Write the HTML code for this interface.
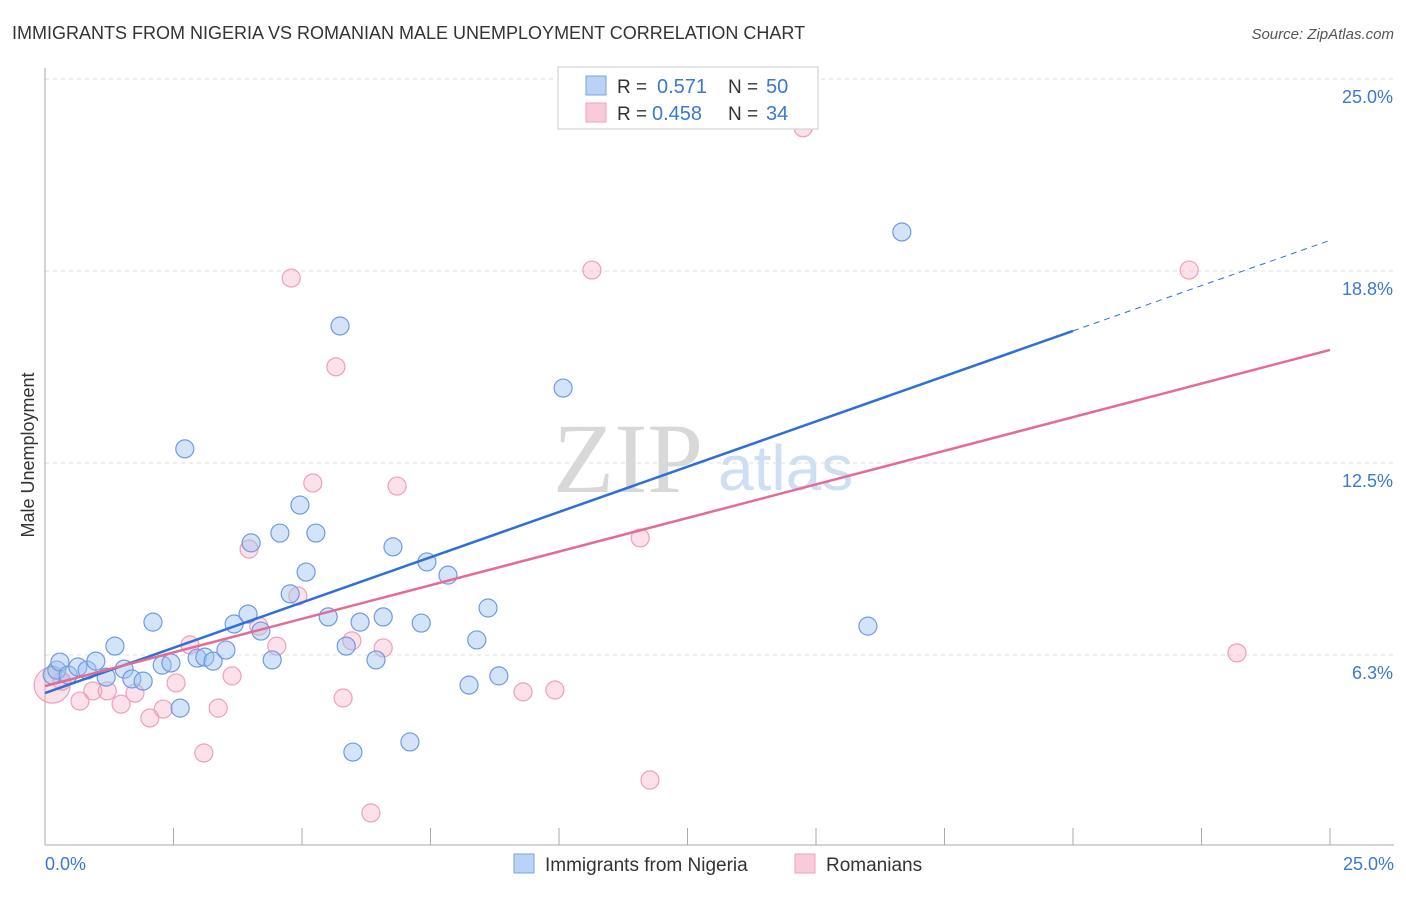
<!DOCTYPE html>
<html><head><meta charset="utf-8"><style>
body{margin:0;background:#fff;font-family:"Liberation Sans",sans-serif;}
</style></head><body>
<svg id="chart" width="1406" height="892" xmlns="http://www.w3.org/2000/svg" font-family="Liberation Sans, sans-serif">
<text x="12" y="39" font-size="18" fill="#333">IMMIGRANTS FROM NIGERIA VS ROMANIAN MALE UNEMPLOYMENT CORRELATION CHART</text>
<text x="1394" y="39" font-size="15" fill="#555" text-anchor="end" font-style="italic">Source: ZipAtlas.com</text>
<text x="34" y="455" font-size="18" fill="#333" text-anchor="middle" transform="rotate(-90 34 455)">Male Unemployment</text>
<text x="553" y="492" font-size="100" fill="#d8d8d8" font-family="Liberation Serif, serif">ZIP</text>
<text x="718" y="490" font-size="64" fill="#cfdff3">atlas</text>
<g id="grid"></g><g id="axes"></g><g id="pts"></g><g id="lines"></g>
<g>
<rect x="558" y="67" width="260" height="62" fill="#fff" stroke="#ccc"/>
<rect x="586" y="76" width="20" height="19" fill="#b9d2f5" stroke="#7ba3e0"/>
<text x="617" y="93" font-size="19" fill="#333">R =</text>
<text x="657" y="93" font-size="20" fill="#3a78d6">0.571</text>
<text x="728" y="93" font-size="19" fill="#333">N =</text>
<text x="766" y="93" font-size="20" fill="#3a78d6">50</text>
<rect x="586" y="103" width="20" height="19" fill="#f9cbd9" stroke="#eea0b8"/>
<text x="617" y="120" font-size="19" fill="#333">R =</text>
<text x="652" y="120" font-size="20" fill="#3a78d6">0.458</text>
<text x="728" y="120" font-size="19" fill="#333">N =</text>
<text x="766" y="120" font-size="20" fill="#3a78d6">34</text>
</g>
<g>
<rect x="514" y="854" width="20" height="19" fill="#b9d2f5" stroke="#7ba3e0"/>
<text x="545" y="871" font-size="19" fill="#333">Immigrants from Nigeria</text>
<rect x="795" y="854" width="20" height="19" fill="#f9cbd9" stroke="#eea0b8"/>
<text x="826" y="871" font-size="19" fill="#333">Romanians</text>
</g>
</svg>
<script>
const yTicks=[6.25,12.5,18.75,25];
const yTickLabels=["6.3%","12.5%","18.8%","25.0%"];
const xTickLabels=["0.0%","25.0%"];
const blueX=[0.14,0.23,0.29,0.45,0.64,0.82,0.99,1.19,1.36,1.54,1.69,1.91,2.10,2.28,2.45,2.63,2.72,2.96,3.11,3.27,3.52,3.68,3.95,4.01,4.20,4.42,4.57,4.77,4.96,5.08,5.27,5.51,5.74,5.86,5.99,6.13,6.44,6.58,6.77,7.10,7.32,7.43,7.84,8.25,8.40,8.62,8.83,10.08,16.01,16.67];
const blueY=[5.60,5.76,6.02,5.60,5.86,5.76,6.05,5.53,6.54,5.79,5.47,5.40,7.32,5.92,5.99,4.52,12.96,6.15,6.18,6.05,6.41,7.26,7.58,9.90,7.03,6.09,10.22,8.24,11.13,8.95,10.22,7.49,16.96,6.54,3.09,7.32,6.09,7.49,9.77,3.42,7.29,9.28,8.85,5.27,6.74,7.78,5.57,14.94,7.19,20.02];
const pinkX=[0.14,0.33,0.68,0.93,1.21,1.48,1.75,2.04,2.30,2.55,2.82,3.09,3.37,3.64,3.97,4.16,4.51,4.79,4.92,5.21,5.66,5.80,5.97,6.34,6.58,6.85,9.30,9.92,10.64,11.58,11.77,14.75,22.26,23.19];
const pinkY=[5.27,5.40,4.75,5.08,5.08,4.65,5.01,4.20,4.49,5.34,6.58,3.06,4.52,5.57,9.70,7.19,6.54,18.52,8.17,11.85,15.63,4.85,6.71,1.11,6.48,11.75,5.05,5.11,18.78,10.06,2.18,23.41,18.78,6.32];
const blueFit=[5.01,0.5895];
const pinkFit=[5.24,0.4376];
const NS="http://www.w3.org/2000/svg";
const sx=v=>45+v/25*1285, sy=v=>847-v/25*768;
function mk(t,a,p){const e=document.createElementNS(NS,t);for(const k in a)e.setAttribute(k,a[k]);document.getElementById(p).appendChild(e);return e;}
yTicks.forEach((t,i)=>{
 const g=mk('line',{x1:45,x2:1394,y1:sy(t),y2:sy(t),stroke:'#ddd','stroke-dasharray':'4,4'},'grid');
 
 
 const l=mk('text',{x:1393,y:sy(t)+24,'font-size':18,fill:'#3a78d6','text-anchor':'end'},'grid');l.textContent=yTickLabels[i];
 
 
});
mk('line',{x1:45,x2:45,y1:68,y2:845,stroke:'#aaa'},'axes');
mk('line',{x1:45,x2:1394,y1:845,y2:845,stroke:'#aaa'},'axes');
for(let i=1;i<=10;i++){const x=sx(i*2.5);const t=mk('line',{x1:x,x2:x,y1:828,y2:845,stroke:'#aaa'},'axes');
 
 }
const x0=mk('text',{x:45,y:870,'font-size':18,fill:'#3a78d6'},'axes');x0.textContent=xTickLabels[0];


const x1=mk('text',{x:1394,y:870,'font-size':18,fill:'#3a78d6','text-anchor':'end'},'axes');x1.textContent=xTickLabels[1];


pinkX.forEach((v,i)=>{const c=mk('circle',{cx:sx(v),cy:sy(pinkY[i]),r:i==0?18:9,fill:'rgba(245,170,195,0.35)',stroke:'#eea0b8','stroke-width':1.2},'pts');
 
 });
blueX.forEach((v,i)=>{const c=mk('circle',{cx:sx(v),cy:sy(blueY[i]),r:9,fill:'rgba(160,195,240,0.45)',stroke:'#6f9ae0','stroke-width':1.2},'pts');
 
 });
const f=(fit,x)=>fit[0]+fit[1]*x;
const b1=mk('line',{x1:sx(0),y1:sy(f(blueFit,0)),x2:sx(20),y2:sy(f(blueFit,20)),stroke:'#2f6fd6','stroke-width':2.5},'lines');


const b2=mk('line',{x1:sx(20),y1:sy(f(blueFit,20)),x2:sx(25),y2:sy(f(blueFit,25)),stroke:'#2f6fd6','stroke-width':1,'stroke-dasharray':'6,5'},'lines');


const p1=mk('line',{x1:sx(0),y1:sy(f(pinkFit,0)),x2:sx(25),y2:sy(f(pinkFit,25)),stroke:'#e56b97','stroke-width':2.5},'lines');


</script>
</body></html>
